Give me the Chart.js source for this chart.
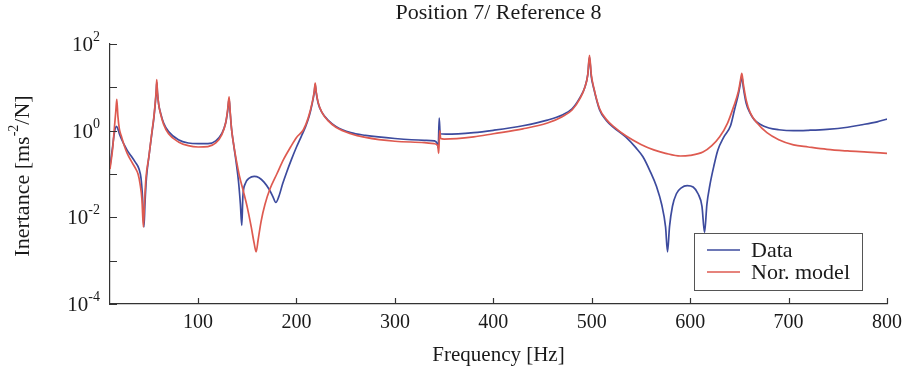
<!DOCTYPE html>
<html>
<head>
<meta charset="utf-8">
<script src="https://cdn.jsdelivr.net/npm/chart.js@4.4.1/dist/chart.umd.min.js"></script>
<style>
  html, body { margin: 0; padding: 0; background: #fff; }
</style>
</head>
<body>
<canvas id="myChart" width="912" height="375"></canvas>
<script>
// measured inertance, Position 7 / Reference 8
const freqData = [10.5, 13, 15, 17, 18.5, 20, 22, 25, 28, 32, 36, 40, 42, 43.5, 45, 46, 47.5, 50, 53, 55,
  56.5, 57.5, 58, 58.7, 60, 62, 65, 70, 80, 90, 100, 110, 118, 124, 128, 130, 131.5, 132.5, 134, 136,
  138.5, 141, 143, 144.4, 145.5, 148, 152, 157, 162, 167, 172, 176, 179, 182, 186, 190, 195, 200, 205, 209,
  213, 216, 218, 219, 220, 222, 226, 232, 240, 255, 270, 300, 330, 340, 343, 344, 345, 346, 352, 380,
  400, 430, 455, 470, 480, 488, 493, 496, 497.7, 499.5, 502, 508, 515, 522, 535, 545, 552, 559, 566, 571,
  575, 577, 579, 582, 586, 591, 597, 603, 608, 612, 614.6, 617, 620, 624, 628, 634, 641, 645, 649, 651,
  652.5, 654, 657, 661, 665, 671, 680, 690, 705, 720, 739, 760, 773, 790, 800];
const inertData = [0.15, 0.4, 0.9, 1.25, 1.1, 0.85, 0.65, 0.47, 0.35, 0.26, 0.19, 0.13, 0.08, 0.03, 0.006, 0.02, 0.08, 0.25, 0.85, 1.9,
  4.2, 8, 13, 7.5, 4, 2.5, 1.5, 0.95, 0.62, 0.52, 0.5, 0.5, 0.58, 0.85, 1.5, 2.8, 5.4, 2.8, 1.1, 0.5,
  0.2, 0.07, 0.02, 0.0065, 0.03, 0.06, 0.08, 0.088, 0.082, 0.065, 0.045, 0.03, 0.022, 0.03, 0.06, 0.11, 0.22, 0.42, 0.75, 1.2,
  2.2, 4.3, 7.5, 11.5, 7.5, 4.3, 2.6, 1.75, 1.25, 0.9, 0.78, 0.66, 0.6, 0.58, 0.5, 0.4, 1.95, 0.85, 0.83, 0.9,
  1.02, 1.3, 1.75, 2.3, 3.2, 5.8, 10, 20, 50, 18, 9.5, 3.0, 1.7, 1.2, 0.7, 0.4, 0.25, 0.12, 0.05, 0.02,
  0.006, 0.0016, 0.006, 0.018, 0.035, 0.048, 0.054, 0.05, 0.035, 0.018, 0.0045, 0.02, 0.055, 0.15, 0.35, 0.7, 1.3, 3.0, 7, 12,
  18, 10, 4.2, 2.5, 1.8, 1.4, 1.15, 1.05, 1.0, 1.02, 1.07, 1.2, 1.35, 1.6, 1.85];

// normalised modal model
const freqModel = [10.5, 13, 15, 16.5, 17.4, 18.5, 20, 22, 25, 28, 32, 36, 39, 41, 43, 44.4, 45.5, 47, 50, 53,
  55, 56.5, 57.5, 58, 58.7, 60, 62, 65, 70, 80, 90, 100, 110, 118, 124, 128, 130, 131.5, 132.5, 134,
  136, 139, 142, 146, 150, 154, 157, 159, 161, 164, 168, 173, 180, 187, 194, 200, 207, 212, 216, 218,
  219, 220, 222, 226, 232, 240, 255, 270, 300, 330, 340, 343.5, 344.5, 345.5, 346.5, 350, 380, 400, 430, 455,
  470, 480, 488, 493, 496, 497.7, 499.5, 502, 508, 515, 522, 535, 550, 563, 575, 590, 600, 613, 622, 630,
  638, 644, 649, 651, 652.5, 654, 657, 661, 668, 678, 690, 705, 720, 739, 760, 780, 800];
const inertModel = [0.13, 0.35, 1.2, 3.0, 5.3, 2.2, 1.1, 0.75, 0.45, 0.3, 0.2, 0.14, 0.1, 0.06, 0.025, 0.006, 0.02, 0.08, 0.25, 0.9,
  2.0, 4.5, 9, 15, 8, 4, 2.4, 1.4, 0.85, 0.55, 0.45, 0.42, 0.43, 0.52, 0.8, 1.5, 3, 6.0, 3, 1.1,
  0.5, 0.2, 0.09, 0.04, 0.017, 0.006, 0.0025, 0.0016, 0.003, 0.008, 0.02, 0.045, 0.1, 0.22, 0.42, 0.7, 1.05, 2.0, 4.5, 8,
  12.5, 8, 4.5, 2.6, 1.7, 1.2, 0.85, 0.7, 0.57, 0.53, 0.5, 0.45, 0.3, 1.0, 0.66, 0.64, 0.72, 0.85, 1.1, 1.5,
  2.1, 3.0, 5.5, 10, 20, 55, 20, 10, 3.2, 1.8, 1.25, 0.75, 0.48, 0.36, 0.3, 0.26, 0.27, 0.32, 0.45, 0.72,
  1.5, 3.5, 8, 14, 21, 12, 5, 2.6, 1.5, 0.9, 0.62, 0.47, 0.42, 0.37, 0.34, 0.32, 0.30];

const xTicks = [100, 200, 300, 400, 500, 600, 700, 800];
const yExponents = [-4, -3, -2, -1, 0, 1, 2];

const SERIF = '"Liberation Serif", "Times New Roman", serif';
const INK = '#1a1a1a';

const toPoints = (xs, ys) => xs.map((x, i) => ({ x: x, y: ys[i] }));

// title, inward ticks, power-of-ten labels, y title and boxed legend
const figureText = {
  id: 'figureText',
  afterDraw(chart) {
    const { ctx, chartArea: a, scales } = chart;
    const xs = scales.x, ys = scales.y;
    ctx.save();
    ctx.fillStyle = INK;

    ctx.font = '22px ' + SERIF;
    ctx.textAlign = 'center';
    ctx.textBaseline = 'middle';
    ctx.fillText('Position 7/ Reference 8', (a.left + a.right) / 2, 13);

    ctx.strokeStyle = '#333';
    ctx.lineWidth = 1.2;
    ctx.beginPath();
    xTicks.forEach(v => {
      const px = Math.round(xs.getPixelForValue(v)) + 0.5;
      ctx.moveTo(px, a.bottom);
      ctx.lineTo(px, a.bottom - 6);
    });
    yExponents.forEach(e => {
      const py = Math.round(ys.getPixelForValue(Math.pow(10, e))) + 0.5;
      ctx.moveTo(a.left, py);
      ctx.lineTo(a.left + 7, py);
    });
    ctx.stroke();

    // 10^n labels on every second decade
    const base = '21px ' + SERIF, sup = '14px ' + SERIF;
    ctx.textBaseline = 'alphabetic';
    ctx.textAlign = 'left';
    yExponents.filter(e => e % 2 === 0).forEach(e => {
      const py = ys.getPixelForValue(Math.pow(10, e));
      const expText = e < 0 ? '-' + (-e) : String(e);
      ctx.font = sup;
      const ew = ctx.measureText(expText).width;
      ctx.font = base;
      const bw = ctx.measureText('10').width;
      const right = a.left - 10;
      ctx.fillText('10', right - ew - bw, py + 7);
      ctx.font = sup;
      ctx.fillText(expText, right - ew, py - 3);
    });

    // rotated y title with superscript
    const tBase = '22px ' + SERIF, tSup = '14px ' + SERIF;
    ctx.save();
    ctx.translate(22, (a.top + a.bottom) / 2 + 2);
    ctx.rotate(-Math.PI / 2);
    const parts = [['Inertance [ms', tBase, 7], ['-2', tSup, -4], ['/N]', tBase, 7]];
    let total = 0;
    parts.forEach(p => { ctx.font = p[1]; p.push(ctx.measureText(p[0]).width); total += p[3]; });
    let cx = -total / 2;
    parts.forEach(p => { ctx.font = p[1]; ctx.fillText(p[0], cx, p[2]); cx += p[3]; });
    ctx.restore();

    // legend box, lower right inside the plot
    const bw = 168, bh = 57;
    const bx = a.right - 25 - bw, by = a.bottom - 14 - bh;
    ctx.fillStyle = '#fff';
    ctx.fillRect(bx, by, bw, bh);
    ctx.strokeStyle = '#555';
    ctx.lineWidth = 1;
    ctx.strokeRect(Math.round(bx) + 0.5, Math.round(by) + 0.5, bw, bh);
    const entries = [chart.data.datasets[0], chart.data.datasets[1]];
    ctx.font = '22px ' + SERIF;
    ctx.textBaseline = 'middle';
    entries.forEach((ds, i) => {
      const ly = by + 17 + i * 22;
      ctx.strokeStyle = ds.borderColor;
      ctx.lineWidth = 1.4;
      ctx.beginPath();
      ctx.moveTo(bx + 13, ly);
      ctx.lineTo(bx + 46, ly);
      ctx.stroke();
      ctx.fillStyle = INK;
      ctx.fillText(ds.label, bx + 57, ly + 1);
    });
    ctx.restore();
  }
};

const ctx = document.getElementById('myChart').getContext('2d');

const config = {
  type: 'line',
  data: {
    datasets: [
      {
        label: 'Data',
        data: toPoints(freqData, inertData),
        borderColor: '#3d4b9e',
        borderWidth: 1.7,
        pointRadius: 0,
        cubicInterpolationMode: 'monotone',
        order: 1
      },
      {
        label: 'Nor. model',
        data: toPoints(freqModel, inertModel),
        borderColor: '#de5a50',
        borderWidth: 1.7,
        pointRadius: 0,
        cubicInterpolationMode: 'monotone',
        order: 0
      }
    ]
  },
  options: {
    responsive: false,
    animation: false,
    devicePixelRatio: 1,
    layout: { padding: { top: 44, right: 25, bottom: 0, left: 0 } },
    plugins: {
      legend: { display: false },
      title: { display: false },
      tooltip: { enabled: false }
    },
    scales: {
      x: {
        type: 'linear',
        min: 10.5,
        max: 800,
        grid: { display: false, drawTicks: false },
        border: { color: '#333', width: 1.2 },
        afterBuildTicks: scale => { scale.ticks = xTicks.map(v => ({ value: v })); },
        afterFit: scale => { scale.height = 71; },
        ticks: {
          padding: 7,
          maxRotation: 0,
          color: INK,
          font: { family: SERIF, size: 20 }
        },
        title: {
          display: true,
          text: 'Frequency [Hz]',
          color: INK,
          font: { family: SERIF, size: 21 },
          padding: { top: 0, bottom: 7 }
        }
      },
      y: {
        type: 'logarithmic',
        min: 1e-4,
        max: 1e2,
        grid: { display: false, drawTicks: false },
        border: { color: '#333', width: 1.2 },
        afterBuildTicks: scale => { scale.ticks = yExponents.map(e => ({ value: Math.pow(10, e) })); },
        afterFit: scale => { scale.width = 110; },
        ticks: { callback: () => '' }
      }
    }
  },
  plugins: [figureText]
};

const myChart = new Chart(ctx, config);
</script>
</body>
</html>
